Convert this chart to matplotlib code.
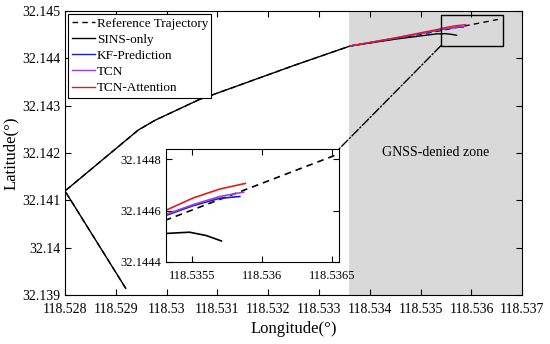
import matplotlib
matplotlib.use("Agg")
import matplotlib.pyplot as plt
from matplotlib.patches import Rectangle, ConnectionPatch
from matplotlib.ticker import FuncFormatter

plt.rcParams['font.family'] = ['Liberation Serif', 'DejaVu Serif']

# trajectory (longitude, latitude in degrees)
ref_lon = [118.529195, 118.528000, 118.529443, 118.529772, 118.530625, 118.532530,
           118.533612, 118.534500, 118.535310, 118.536520]
ref_lat = [32.139147, 32.141199, 32.142485, 32.142690, 32.143118, 32.143855,
           32.144256, 32.144410, 32.144563, 32.144815]

sins_lon = [118.529195, 118.528000, 118.529443, 118.529772, 118.530625, 118.532530,
            118.533612, 118.534500, 118.535310, 118.535480, 118.535600, 118.535708]
sins_lat = [32.139147, 32.141199, 32.142485, 32.142690, 32.143118, 32.143855,
            32.144256, 32.144400, 32.144511, 32.144516, 32.144503, 32.144482]

kf_lon = [118.533612, 118.534500, 118.535310, 118.535505, 118.535696, 118.535840]
kf_lat = [32.144256, 32.144420, 32.144581, 32.144619, 32.144648, 32.144655]

tcn_lon = [118.533612, 118.534500, 118.535310, 118.535505, 118.535696, 118.535868]
tcn_lat = [32.144256, 32.144422, 32.144585, 32.144623, 32.144655, 32.144672]

att_lon = [118.533612, 118.534500, 118.535310, 118.535505, 118.535696, 118.535880]
att_lat = [32.144256, 32.144428, 32.144601, 32.144649, 32.144684, 32.144706]

denied_start = 118.53358

xticks = [118.528, 118.529, 118.53, 118.531, 118.532, 118.533, 118.534, 118.535, 118.536, 118.537]
yticks = [32.139, 32.14, 32.141, 32.142, 32.143, 32.144, 32.145]
in_xticks = [118.5355, 118.536, 118.5365]
in_yticks = [32.1444, 32.1446, 32.1448]

fmt = FuncFormatter(lambda v, p: '%.7g' % v)


def draw_lines(ax, lw=1.0):
    ax.plot(ref_lon, ref_lat, color='k', ls='--', dashes=(4, 3), lw=lw, label='Reference Trajectory')
    ax.plot(sins_lon, sins_lat, color='k', lw=lw, label='SINS-only')
    ax.plot(kf_lon, kf_lat, color='#1a1ad6', lw=lw, label='KF-Prediction')
    ax.plot(tcn_lon, tcn_lat, color='#9b3fe0', lw=lw, label='TCN')
    ax.plot(att_lon, att_lat, color='#e41a1a', lw=lw, label='TCN-Attention')


def style_axes(ax, size):
    ax.tick_params(direction='in', length=4, width=0.8, top=True, right=True, labelsize=size)
    ax.tick_params(axis='x', pad=5.5)
    for s in ax.spines.values():
        s.set_linewidth(0.8)
    ax.xaxis.set_major_formatter(fmt)
    ax.yaxis.set_major_formatter(fmt)


fig = plt.figure(figsize=(5.5, 3.44), dpi=100)
ax = fig.add_axes([0.1182, 0.1416, 0.8314, 0.8273])

ax.axvspan(denied_start, 118.537, color='#d9d9d9', lw=0, zorder=0)
draw_lines(ax)
ax.set_xlim(118.528, 118.537)
ax.set_ylim(32.139, 32.145)
ax.set_xticks(xticks)
ax.set_yticks(yticks)
style_axes(ax, 10)
ax.set_xlabel('Longitude(°)', fontsize=12, labelpad=4)
ax.set_ylabel('Latitude(°)', fontsize=12, labelpad=2)
ax.text(118.5353, 32.142, 'GNSS-denied zone', fontsize=10, ha='center', va='center')

leg = ax.legend(loc='upper left', fontsize=9.5, handlelength=1.8, handletextpad=0.1,
                labelspacing=0.3, borderpad=0.25, borderaxespad=0.25, fancybox=False,
                framealpha=1, edgecolor='k')
leg.get_frame().set_linewidth(0.8)

# zoom box
box_x0, box_x1 = 118.535399, 118.536625
box_y0, box_y1 = 32.144262, 32.144903
ax.add_patch(Rectangle((box_x0, box_y0), box_x1 - box_x0, box_y1 - box_y0,
                       fill=False, ec='k', lw=1.0, zorder=5))

# inset
axin = fig.add_axes([0.3013, 0.2384, 0.3151, 0.3285])
draw_lines(axin, lw=1.2)
axin.set_xlim(118.53531, 118.53655)
axin.set_ylim(32.1444, 32.14484)
axin.set_xticks(in_xticks)
axin.set_yticks(in_yticks)
style_axes(axin, 9)

con = ConnectionPatch(xyA=(box_x0, box_y0), coordsA=ax.transData,
                      xyB=(118.53655, 32.14484), coordsB=axin.transData,
                      ls='-.', color='k', lw=1.0)
fig.add_artist(con)

fig.savefig('out.png', dpi=100)
